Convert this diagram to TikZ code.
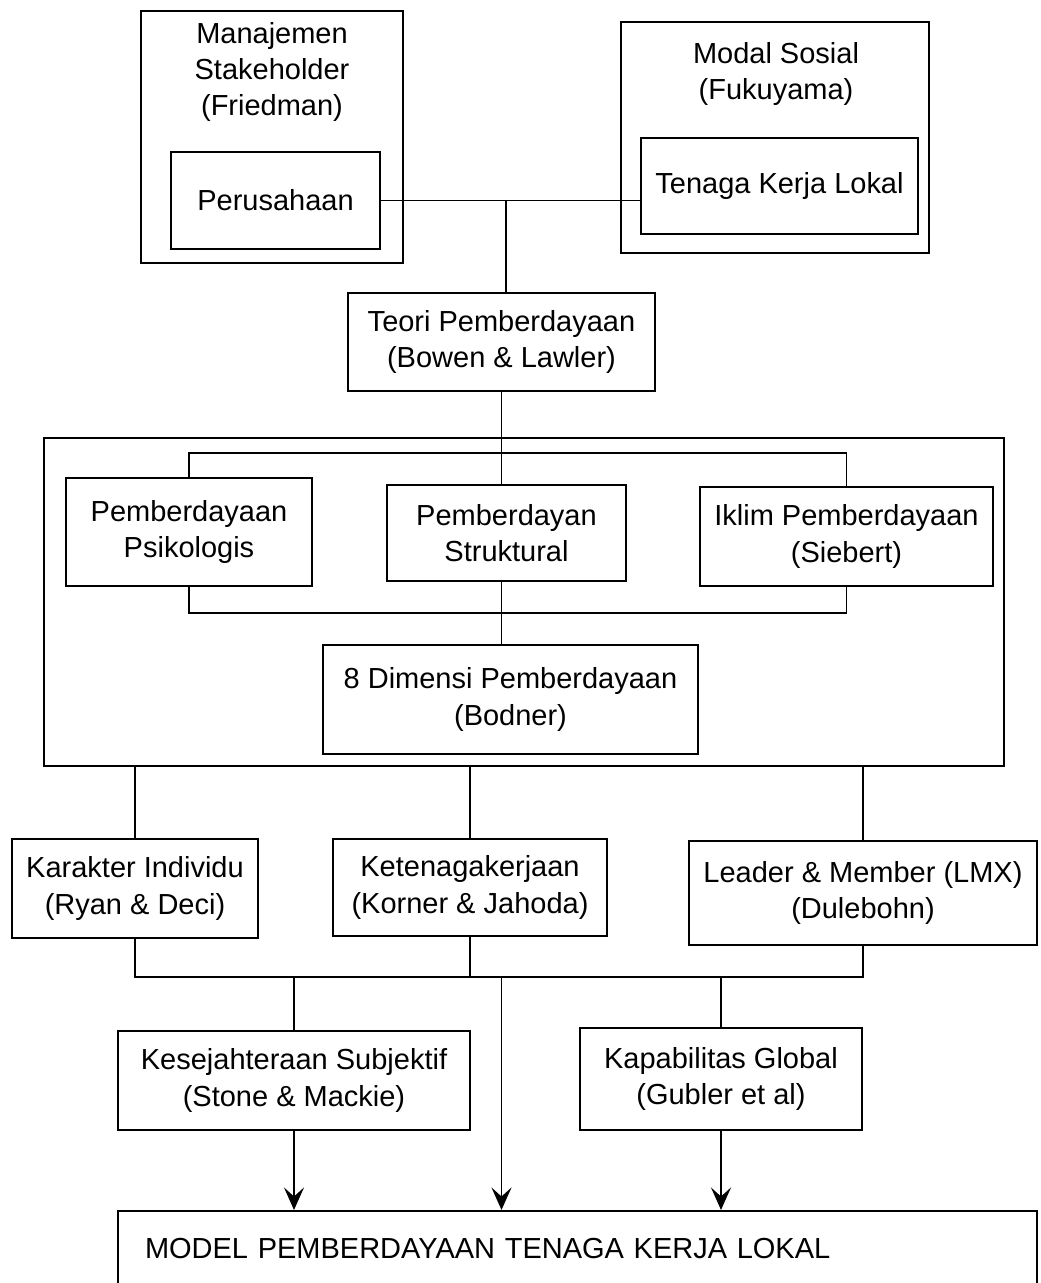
\documentclass[tikz,border=0pt]{standalone}
\usepackage{fontspec}
\setmainfont{Liberation Sans}
\usetikzlibrary{arrows.meta, positioning}

\begin{document}
\begin{tikzpicture}[>={Stealth[length=4.5mm, width=4mm, inset=1.8mm]},
    font=\fontsize{16.5}{20.5}\selectfont, line width=1.1pt,
    box/.style={draw, align=center, inner sep=2pt},
    judul/.style={align=center, inner sep=0pt}]

            \useasboundingbox (0,0) rectangle (20.8,25.66);
            \clip (0,0) rectangle (20.8,25.66);

            % 1. Stakeholder and social capital (top)
            \node[box, minimum width=5.24cm, minimum height=5.04cm] (mgmt) at (5.44,22.92) {};
            \node[judul] (mgmtjudul) at (5.44,24.22) {Manajemen\\Stakeholder\\(Friedman)};
            \node[box, minimum width=4.18cm, minimum height=1.94cm] (perusahaan) at (5.51,21.65) {Perusahaan};

            \node[box, minimum width=6.16cm, minimum height=4.62cm] (modal) at (15.5,22.91) {};
            \node[judul] (modaljudul) at (15.52,24.18) {Modal Sosial\\(Fukuyama)};
            \node[box, minimum width=5.54cm, minimum height=1.92cm] (tenaga) at (15.59,21.94) {Tenaga Kerja Lokal};

            \coordinate (simpul) at (10.12,21.64);
            \draw (perusahaan.east) -- (perusahaan.east -| tenaga.west);

            % 2. Empowerment theory
            \node[box, minimum width=6.14cm, minimum height=1.96cm] (teori) at (10.03,18.82) {Teori Pemberdayaan\\(Bowen \& Lawler)};
            \draw (simpul) -- (simpul |- teori.north);

            % 3. Empowerment group (big box)
            \node[box, minimum width=19.2cm, minimum height=6.56cm] (kelompok) at (10.48,13.62) {};
            \node[box, minimum width=4.92cm, minimum height=2.16cm] (psikologis) at (3.78,15.02) {Pemberdayaan\\Psikologis};
            \node[box, minimum width=4.78cm, minimum height=1.92cm] (struktural) at (10.13,15.0) {Pemberdayan\\Struktural};
            \node[box, minimum width=5.86cm, minimum height=1.98cm] (iklim) at (16.93,14.93) {Iklim Pemberdayaan\\(Siebert)};
            \node[box, minimum width=7.5cm, minimum height=2.18cm] (dimensi) at (10.21,11.67) {8 Dimensi Pemberdayaan\\(Bodner)};

            \coordinate (atas) at (10,16.6);
            \coordinate (bawah) at (10,13.4);
            \draw (teori.south) -- (teori.south |- struktural.north);
            \draw (psikologis.north) |- (atas) -| (iklim.north);
            \draw (psikologis.south) |- (bawah) -| (iklim.south);
            \draw (teori.south |- struktural.south) -- (teori.south |- dimensi.north);

            % 4. Individual, employment, LMX
            \node[box, minimum width=4.92cm, minimum height=1.98cm] (karakter) at (2.7,7.89) {Karakter Individu\\(Ryan \& Deci)};
            \node[box, minimum width=5.48cm, minimum height=1.94cm] (keten) at (9.4,7.91) {Ketenagakerjaan\\(Korner \& Jahoda)};
            \node[box, minimum width=6.96cm, minimum height=2.08cm] (leader) at (17.26,7.8) {Leader \& Member (LMX)\\(Dulebohn)};

            \draw (karakter.north |- kelompok.south) -- (karakter.north);
            \draw (keten.north |- kelompok.south) -- (keten.north);
            \draw (leader.north |- kelompok.south) -- (leader.north);

            \coordinate (gabung) at (10,6.12);
            \draw (karakter.south) |- (gabung) -| (leader.south);
            \draw (keten.south) -- (keten.south |- gabung);

            % 5. Well-being and global capability
            \node[box, minimum width=7.04cm, minimum height=1.98cm] (kesejahteraan) at (5.88,4.05) {Kesejahteraan Subjektif\\(Stone \& Mackie)};
            \node[box, minimum width=5.64cm, minimum height=2.04cm] (kapabilitas) at (14.42,4.08) {Kapabilitas Global\\(Gubler et al)};

            \draw (kesejahteraan.north) -- (kesejahteraan.north |- gabung);
            \draw (kapabilitas.north) -- (kapabilitas.north |- gabung);

            % 6. Final model
            \node[box, anchor=north, minimum height=1.5cm, text width=17.3cm, align=left, inner xsep=0.54cm] (model) at (11.55,1.46) {MODEL PEMBERDAYAAN TENAGA KERJA LOKAL};

            \draw[->] (kesejahteraan.south) -- (kesejahteraan.south |- model.north);
            \draw[->] (teori.south |- gabung) -- (teori.south |- model.north);
            \draw[->] (kapabilitas.south) -- (kapabilitas.south |- model.north);

        \end{tikzpicture}
\end{document}
